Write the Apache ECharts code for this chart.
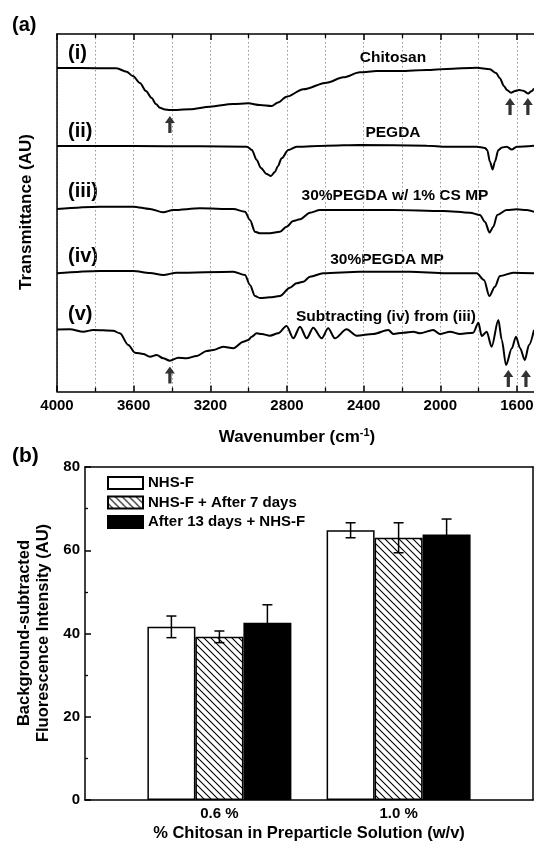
<!DOCTYPE html>
<html><head><meta charset="utf-8">
<script src="https://cdn.jsdelivr.net/npm/echarts@6/dist/echarts.min.js"></script>
<style>html,body{margin:0;padding:0;background:#fff}#c{width:534px;height:841px}</style>
</head><body><div id="c"></div>
<script>
// ---------- Panel (a): FTIR spectra, [wavenumber (cm^-1), transmittance (AU, stacked offset)] ----------
const chitosan = [[4000,323.5],[3880,323.5],[3689,323.2],[3637,319.8],[3604,315.5],[3567,308.5],[3536,300.5],[3506,293.5],[3484,287.5],[3463,283.8],[3437,282],[3411,281.5],[3306,282.2],[3202,284.8],[3082,287.5],[3002,288.2],[2941,286.5],[2880,285.5],[2847,289],[2802,294.8],[2715,302.2],[2593,308.8],[2506,314.2],[2419,319.2],[2332,320.5],[2210,320.5],[2071,321.5],[1967,322.5],[1810,323.8],[1741,322.2],[1709,318.5],[1689,313.2],[1668,305.5],[1652,301.5],[1631,298.8],[1610,300.5],[1589,301.5],[1567,300.8],[1541,298],[1527,300],[1511,303]];
const pegda = [[4000,245.5],[3604,245.5],[3254,245.2],[3009,244.8],[2983,241.5],[2958,231.5],[2936,223.5],[2906,217.5],[2884,215.5],[2863,219.5],[2847,225.5],[2828,233.2],[2793,241.5],[2750,244.8],[2593,245.8],[2419,246.5],[2071,245.8],[1967,244.8],[1810,244.8],[1767,243.5],[1755,241.5],[1741,229.8],[1727,222],[1715,229.8],[1697,241.5],[1678,244],[1653,244.8],[1627,242],[1601,244.8],[1511,245.8]];
const pegdaCs = [[4000,182.5],[3776,184.8],[3602,184.8],[3515,182.5],[3446,179.2],[3394,181.5],[3254,183.2],[3080,182.5],[3019,179.8],[2993,171.5],[2967,159.8],[2941,158.2],[2889,158.2],[2837,159.8],[2802,164.8],[2767,170.5],[2732,172.2],[2680,178.8],[2628,181.5],[2419,181.5],[2245,181.5],[1984,180.5],[1845,178.8],[1793,176.5],[1767,169.8],[1743,159],[1723,164.8],[1703,176.5],[1654,181.5],[1601,182.2],[1549,181.5],[1511,179.8]];
const pegdaMp = [[4000,118.2],[3776,120.5],[3602,120.5],[3515,118.5],[3446,116.5],[3376,118.8],[3080,119.8],[3019,116.5],[2993,106.5],[2967,95.5],[2941,93.5],[2889,94.2],[2837,95.5],[2785,103.8],[2750,108.2],[2715,109.8],[2680,114.8],[2611,118.2],[2419,119.8],[2158,119.8],[1967,118.2],[1810,118.2],[1772,111.5],[1744,95.5],[1715,104.8],[1689,115.5],[1619,118.8],[1511,118.2]];
const subtracted = [[4000,62],[3933,62.2],[3863,59.8],[3811,61.5],[3707,60.8],[3672,58.2],[3628,46.5],[3593,38.8],[3550,37.5],[3515,34.8],[3480,36.5],[3446,33.2],[3411,30.8],[3367,33.8],[3324,33.2],[3271,35.5],[3219,40.5],[3185,41.5],[3133,44.8],[3080,43.2],[3028,49.8],[3002,51.5],[2984,54.8],[2958,58.2],[2931,57.5],[2889,55.8],[2846,58.2],[2802,65.5],[2767,53.2],[2732,64.8],[2697,53.2],[2663,63.8],[2619,53.2],[2585,63.2],[2550,53.2],[2489,62.2],[2436,55.8],[2350,57.5],[2271,61.5],[2245,57.5],[2193,58.8],[2141,59.8],[2106,58.2],[2037,61.5],[2002,57.5],[1949,59.8],[1897,57.5],[1828,58.8],[1801,68.8],[1784,55.5],[1758,59.8],[1732,44.8],[1697,71.5],[1679,51.5],[1657,26.5],[1627,43],[1605,54.8],[1584,43.5],[1559,31.5],[1537,46.5],[1511,61.5]];
const arrowMarks = [[3411,267],[1636,285],[1543,285],[3411,16.5],[1645,13],[1553,13]];
const curveNames = ['Chitosan','PEGDA','30%PEGDA w/ 1% CS MP','30%PEGDA MP','Subtracting (iv) from (iii)'];
const curveTags = ['(i)','(ii)','(iii)','(iv)','(v)'];

// ---------- Panel (b): bar chart ----------
const chitosanPct = [0.6, 1.0];
const barNames = ['NHS-F','NHS-F + After 7 days','After 13 days + NHS-F'];
const nhsF = [41.6, 64.8];
const nhsF7 = [39.2, 63.0];
const after13 = [42.6, 63.8];
const errNhsF = [2.6, 1.8];
const errNhsF7 = [1.4, 3.6];
const errAfter13 = [4.3, 3.7];

const FONT = '"Liberation Sans", Arial, Helvetica, sans-serif';
const BAR_W = 48;

// hatch pattern "\\\\"
function hatch(){
  const s = 7, c = document.createElement('canvas');
  c.width = s; c.height = s;
  const g = c.getContext('2d');
  g.fillStyle = '#fff'; g.fillRect(0,0,s,s);
  g.strokeStyle = '#000'; g.lineWidth = 1.1;
  g.beginPath();
  g.moveTo(-1,-1); g.lineTo(s+1,s+1);
  g.moveTo(s-1,-1); g.lineTo(s+1,1);
  g.moveTo(-1,s-1); g.lineTo(1,s+1);
  g.stroke();
  return {image: c, repeat: 'repeat'};
}

const lineBase = {type:'line', xAxisIndex:0, yAxisIndex:0, showSymbol:false, smooth:0.3, smoothMonotone:'x',
  lineStyle:{color:'#000', width:2}, silent:true};

const axisLineBlack = {show:true, onZero:false, lineStyle:{color:'#000', width:1.5}};
const txt = (extra) => Object.assign({fontFamily:FONT, fontWeight:'bold', color:'#000'}, extra);

function renderErr(params, api){
  const x = api.value(0), v = api.value(1), e = api.value(2), k = api.value(3);
  const base = api.coord([x, v]);
  const hi = api.coord([x, v + e]);
  const lo = api.coord([x, v - e]);
  const cx = base[0] + (k - 1) * BAR_W;
  const cap = 5;
  const st = {stroke:'#000', lineWidth:1.5};
  return {type:'group', children:[
    {type:'line', shape:{x1:cx, y1:hi[1], x2:cx, y2:lo[1]}, style:st},
    {type:'line', shape:{x1:cx-cap, y1:hi[1], x2:cx+cap, y2:hi[1]}, style:st},
    {type:'line', shape:{x1:cx-cap, y1:lo[1], x2:cx+cap, y2:lo[1]}, style:st}
  ]};
}
const errData = [];
[[nhsF,errNhsF],[nhsF7,errNhsF7],[after13,errAfter13]].forEach(([vals, errs], k) => {
  chitosanPct.forEach((c, i) => errData.push([c, vals[i], errs[i], k]));
});

const hatchFill = hatch();
const tagY = [53, 131, 191, 256, 314];
const nameXY = [[393,58],[393,133],[395,196],[387,260],[386,317]];

const graphics = [
  {type:'text', x:12, y:25, style:{text:'(a)', font:'bold 20px '+FONT, fill:'#000', align:'left', verticalAlign:'middle'}},
  {type:'text', x:12, y:456, style:{text:'(b)', font:'bold 21px '+FONT, fill:'#000', align:'left', verticalAlign:'middle'}},
  {type:'text', x:26, y:212, rotation:Math.PI/2, style:{text:'Transmittance (AU)', font:'bold 17px '+FONT, fill:'#000', align:'center', verticalAlign:'middle'}},
  {type:'text', x:297, y:437, style:{text:'Wavenumber (cm{s|-1})', font:'bold 17px '+FONT, fill:'#000', align:'center', verticalAlign:'middle',
     rich:{s:{font:'bold 11px '+FONT, fill:'#000', verticalAlign:'top', padding:[0,0,9,0]}}}},
  {type:'text', x:24, y:633, rotation:Math.PI/2, style:{text:'Background-subtracted', font:'bold 16.5px '+FONT, fill:'#000', align:'center', verticalAlign:'middle'}},
  {type:'text', x:43, y:633, rotation:Math.PI/2, style:{text:'Fluorescence Intensity (AU)', font:'bold 16.5px '+FONT, fill:'#000', align:'center', verticalAlign:'middle'}},
  {type:'text', x:309, y:833, style:{text:'% Chitosan in Preparticle Solution (w/v)', font:'bold 16.5px '+FONT, fill:'#000', align:'center', verticalAlign:'middle'}}
];
curveTags.forEach((t, i) => graphics.push({type:'text', x:68, y:tagY[i], style:{text:t, font:'bold 20px '+FONT, fill:'#000', align:'left', verticalAlign:'middle'}}));
curveNames.forEach((t, i) => graphics.push({type:'text', x:nameXY[i][0], y:nameXY[i][1], style:{text:t, font:'bold 15.5px '+FONT, fill:'#000', align:'center', verticalAlign:'middle'}}));

const option = {
  animation:false,
  backgroundColor:'#fff',
  grid:[
    {left:57, top:34, width:536.6, height:357.5, outerBoundsMode:'none', containLabel:false},
    {left:85, top:467, width:448, height:333, outerBoundsMode:'none', containLabel:false}
  ],
  legend:{data:barNames, orient:'vertical', left:107, top:475.5, padding:0, itemWidth:35, itemHeight:12, itemGap:4.5,
    icon:'rect', selectedMode:false, textStyle:txt({fontSize:15})},
  xAxis:[
    {gridIndex:0, type:'value', min:1200, max:4000, interval:400, inverse:true, position:'bottom',
      axisLine:axisLineBlack,
      axisTick:{show:true, inside:true, length:6, lineStyle:{color:'#000', width:1.5}},
      minorTick:{show:true, splitNumber:2, length:4, lineStyle:{color:'#000', width:1.3}},
      axisLabel:txt({fontSize:15, margin:7, formatter:(v) => String(v)}),
      splitLine:{show:true, lineStyle:{color:'#999', type:[1.5,2.5], width:1}},
      minorSplitLine:{show:true, lineStyle:{color:'#999', type:[1.5,2.5], width:1}}},
    {gridIndex:0, type:'value', min:1200, max:4000, interval:400, inverse:true, position:'top',
      axisLine:axisLineBlack,
      axisTick:{show:true, inside:true, length:6, lineStyle:{color:'#000', width:1.5}},
      minorTick:{show:true, splitNumber:2, length:4, lineStyle:{color:'#000', width:1.3}},
      axisLabel:{show:false}, splitLine:{show:false}},
    {gridIndex:1, type:'value', min:0.3, max:1.3, interval:0.1, position:'bottom',
      axisLine:axisLineBlack, axisTick:{show:false}, splitLine:{show:false},
      axisLabel:txt({fontSize:15, margin:6, formatter:(v) => chitosanPct.some(c => Math.abs(c - v) < 1e-6) ? v.toFixed(1) + ' %' : ''})},
    {gridIndex:1, type:'value', min:0.3, max:1.3, position:'top',
      axisLine:axisLineBlack, axisTick:{show:false}, axisLabel:{show:false}, splitLine:{show:false}}
  ],
  yAxis:[
    {gridIndex:0, type:'value', min:0, max:357.5, axisLine:axisLineBlack, axisTick:{show:false}, axisLabel:{show:false}, splitLine:{show:false}},
    {gridIndex:1, type:'value', min:0, max:80, interval:20, axisLine:axisLineBlack,
      axisTick:{show:true, inside:true, length:6, lineStyle:{color:'#000', width:1.5}},
      minorTick:{show:true, splitNumber:2, length:3, lineStyle:{color:'#000', width:1.3}},
      axisLabel:txt({fontSize:15, margin:5, formatter:(v) => String(v)}), splitLine:{show:false}},
    {gridIndex:1, type:'value', min:0, max:80, position:'right', axisLine:axisLineBlack, axisTick:{show:false}, axisLabel:{show:false}, splitLine:{show:false}}
  ],
  graphic: graphics,
  series:[
    Object.assign({name:curveNames[0], data:chitosan}, lineBase),
    Object.assign({name:curveNames[1], data:pegda}, lineBase),
    Object.assign({name:curveNames[2], data:pegdaCs}, lineBase),
    Object.assign({name:curveNames[3], data:pegdaMp}, lineBase),
    Object.assign({name:curveNames[4], data:subtracted}, lineBase),
    {type:'scatter', xAxisIndex:0, yAxisIndex:0, data:arrowMarks, silent:true,
      symbol:'path://M5,0 L10,7 L6.6,7 L6.6,17 L3.4,17 L3.4,7 L0,7 Z', symbolSize:[10,17], itemStyle:{color:'#000'}},
    {type:'bar', name:barNames[0], xAxisIndex:2, yAxisIndex:1, barWidth:BAR_W, barGap:'0%',
      data:chitosanPct.map((c,i) => [c, nhsF[i]]), itemStyle:{color:'#fff', borderColor:'#000', borderWidth:1.5}},
    {type:'bar', name:barNames[1], xAxisIndex:2, yAxisIndex:1, barWidth:BAR_W, barGap:'0%',
      data:chitosanPct.map((c,i) => [c, nhsF7[i]]), itemStyle:{color:hatchFill, borderColor:'#000', borderWidth:1.5}},
    {type:'bar', name:barNames[2], xAxisIndex:2, yAxisIndex:1, barWidth:BAR_W, barGap:'0%',
      data:chitosanPct.map((c,i) => [c, after13[i]]), itemStyle:{color:'#000', borderColor:'#000', borderWidth:1.5}},
    {type:'custom', xAxisIndex:2, yAxisIndex:1, data:errData, renderItem:renderErr, encode:{x:0, y:1}, z:10, silent:true}
  ]
};
const chart = echarts.init(document.getElementById('c'), null, {renderer:'canvas'});
chart.setOption(option);
</script></body></html>
